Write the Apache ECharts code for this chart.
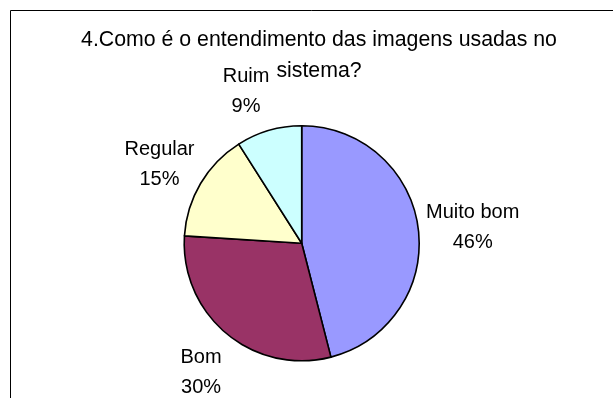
<!DOCTYPE html>
<html>
<head>
<meta charset="utf-8">
<script src="https://cdn.jsdelivr.net/npm/echarts@6/dist/echarts.min.js"></script>
<style>
html,body{margin:0;padding:0;background:#fff;}
#chart{width:613px;height:398px;}
</style>
</head>
<body>
<div id="chart"></div>
<script>
const titleLines = ["4.Como é o entendimento das imagens usadas no", "sistema?"];
const categories = ["Muito bom", "Bom", "Regular", "Ruim"];
const values = [46, 30, 15, 9];
const colors = ["#9999FF", "#993366", "#FFFFCC", "#CCFFFF"];

const chart = echarts.init(document.getElementById('chart'), null, {renderer: 'canvas'});
const FONT = '"Liberation Sans", Arial, sans-serif';
const PIE_CENTER = [301.7, 243.3];
const LABEL_CENTER = [302.5, 247.3];
const pieData = categories.map((c, i) => ({name: c, value: values[i], itemStyle: {color: colors[i]}}));
const labelData = categories.map((c, i) => ({name: c, value: values[i]}));

chart.setOption({
  backgroundColor: '#ffffff',
  animation: false,
  graphic: [
    {type: 'polyline', shape: {points: [[10.5, 398], [10.5, 10.5], [613, 10.5]]},
     style: {stroke: '#000', lineWidth: 1, fill: null}, silent: true},
    {type: 'text', x: 319, y: 40, style: {text: titleLines[0], font: '21.3px ' + FONT, fill: '#000', align: 'center', verticalAlign: 'middle'}},
    {type: 'text', x: 319, y: 71, style: {text: titleLines[1], font: '21.3px ' + FONT, fill: '#000', align: 'center', verticalAlign: 'middle'}}
  ],
  series: [
    {
      type: 'pie',
      center: PIE_CENTER,
      radius: [0, 117.5],
      startAngle: 90,
      clockwise: true,
      avoidLabelOverlap: false,
      silent: true,
      label: {show: false},
      labelLine: {show: false},
      itemStyle: {borderColor: '#000', borderWidth: 1.6},
      data: pieData
    },
    {
      type: 'pie',
      center: LABEL_CENTER,
      radius: [109, 149],
      startAngle: 90,
      clockwise: true,
      avoidLabelOverlap: false,
      silent: true,
      itemStyle: {color: 'rgba(0,0,0,0)', borderWidth: 0},
      label: {
        show: true, position: 'inside', formatter: '{b}\n{c}%',
        color: '#000', fontFamily: FONT, fontSize: 20, lineHeight: 30, align: 'center'
      },
      labelLine: {show: false},
      labelLayout: function (p) {
        const r = p.labelRect;
        const cx = r.x + r.width / 2, cy = r.y + r.height / 2;
        const ux = cx - LABEL_CENTER[0], uy = cy - LABEL_CENTER[1];
        const len = Math.hypot(ux, uy) || 1;
        return {dx: Math.sign(ux) * r.width * 0.42, dy: (uy / len) * r.height / 2};
      },
      data: labelData
    }
  ]
});
</script>
</body>
</html>
